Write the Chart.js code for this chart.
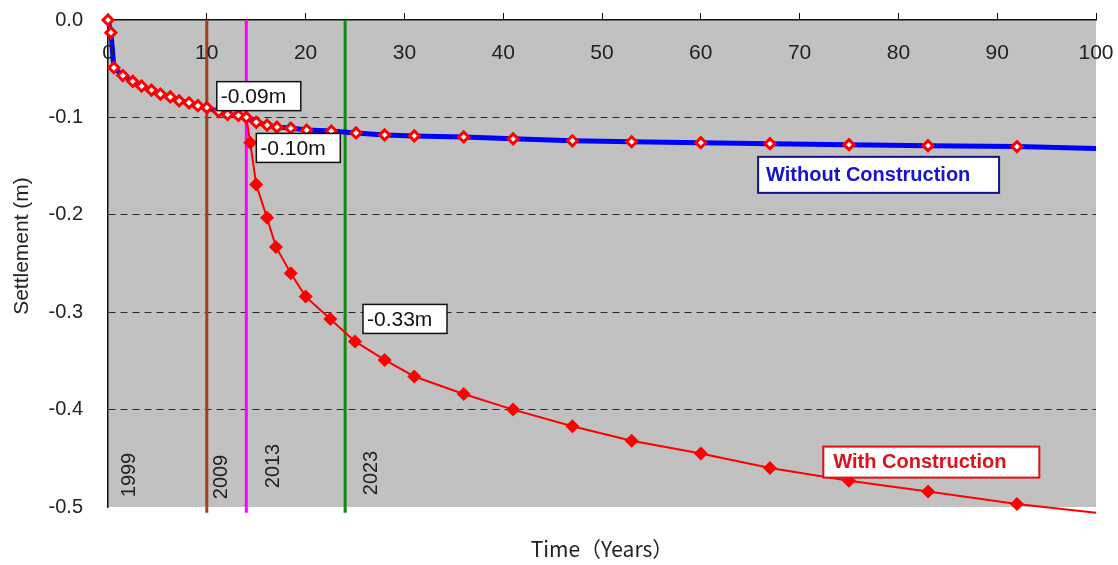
<!DOCTYPE html>
<html>
<head>
<meta charset="utf-8">
<script src="https://cdn.jsdelivr.net/npm/chart.js@4.4.0/dist/chart.umd.min.js"></script>
<style>
  html, body { margin: 0; padding: 0; background: #ffffff; }
  canvas { display: block; }
</style>
</head>
<body>
<canvas id="settlement" width="1118" height="565"></canvas>
<script>
// Axis ticks
const xTicks = [0, 10, 20, 30, 40, 50, 60, 70, 80, 90, 100];
const yTickValues = [0, -0.1, -0.2, -0.3, -0.4, -0.5];
const yTickLabels = ['0.0', '-0.1', '-0.2', '-0.3', '-0.4', '-0.5'];

// Settlement without construction (computed points, years since 1999)
const withoutYears = [0, 0.3, 0.6, 1.5, 2.5, 3.4, 4.4, 5.3, 6.3, 7.2, 8.2, 9.1, 10, 11.2, 12.1, 13.2, 14,
  15, 16.1, 17.1, 18.5, 20.1, 22.6, 25.1, 28, 31, 36, 41, 47, 53, 60, 67, 75, 83, 92];
const withoutSettlement = [0, -0.013, -0.049, -0.057, -0.063, -0.068, -0.072, -0.076, -0.079, -0.083, -0.085,
  -0.088, -0.09, -0.094, -0.097, -0.098, -0.10, -0.105, -0.108, -0.11, -0.111, -0.113, -0.114, -0.116,
  -0.118, -0.119, -0.12, -0.122, -0.124, -0.125, -0.126, -0.127, -0.128, -0.129, -0.13];
// Trend line continues to the end of the time axis
const withoutTrendEndYear = 100;
const withoutTrendEndSettlement = -0.132;

// Settlement with construction starting in 2013
const withYears = [14, 14.4, 15, 16.1, 17, 18.5, 20, 22.5, 25, 28, 31, 36, 41, 47, 53, 60, 67, 75, 83, 92, 100];
const withSettlement = [-0.10, -0.126, -0.169, -0.203, -0.233, -0.26, -0.284, -0.307, -0.33, -0.349, -0.366,
  -0.384, -0.40, -0.417, -0.432, -0.445, -0.46, -0.473, -0.484, -0.497, -0.506];

// Milestone years (years since 1999) and their calendar labels
const milestoneYears = [10, 14, 24];
const milestoneColors = ['#a0401c', '#ff00ff', '#108a10'];
const calendarYears = [0, 10, 14, 24];
const calendarLabels = ['1999', '2009', '2013', '2023'];
const axisBottomValue = -0.506;

// Value callouts
const noteYears = [10, 14, 25];
const noteValues = [-0.09, -0.10, -0.33];

const FONT = '"Liberation Sans", Arial, Helvetica, sans-serif';

const pts = (xs, ys) => xs.map((x, i) => ({ x: x, y: ys[i] }));

const milestoneSets = milestoneYears.map((yr, i) => ({
  label: 'm' + i,
  data: [{ x: yr, y: 0 }, { x: yr, y: axisBottomValue }],
  borderColor: milestoneColors[i],
  borderWidth: 3,
  pointRadius: 0,
  showLine: true,
  clip: false,
  order: 5
}));

const backdrop = {
  id: 'backdrop',
  beforeDraw(chart) {
    const { ctx, chartArea: a } = chart;
    ctx.save();
    ctx.fillStyle = '#c1c1c1';
    ctx.fillRect(a.left, a.top, a.right - a.left, a.bottom - a.top);
    ctx.restore();
  }
};

function box(ctx, x, y, w, h, stroke, lw) {
  ctx.fillStyle = '#ffffff';
  ctx.fillRect(x, y, w, h);
  ctx.strokeStyle = stroke;
  ctx.lineWidth = lw;
  ctx.strokeRect(x, y, w, h);
}

const texts = {
  id: 'texts',
  afterDatasetsDraw(chart) {
    const { ctx, chartArea: a } = chart;
    const xs = chart.scales.x, ys = chart.scales.y;
    ctx.save();

    // x tick labels sit just inside the plot, under the top axis
    ctx.fillStyle = '#222';
    ctx.font = '21px ' + FONT;
    ctx.textAlign = 'center';
    ctx.textBaseline = 'middle';
    xTicks.forEach(v => ctx.fillText(String(v), xs.getPixelForValue(v), a.top + 33));

    // calendar year labels, vertical
    const yearShift = [20, 14, 26, 25];
    const yearMid = [475, 477, 466, 473];
    ctx.font = '20px ' + FONT;
    calendarYears.forEach((yr, i) => {
      ctx.save();
      ctx.translate(xs.getPixelForValue(yr) + yearShift[i], yearMid[i]);
      ctx.rotate(-Math.PI / 2);
      ctx.fillText(calendarLabels[i], 0, 1);
      ctx.restore();
    });

    // value callouts
    const noteOffset = [[10, -26], [10, 16], [8, -37]];
    ctx.textAlign = 'left';
    ctx.font = '21px ' + FONT;
    noteYears.forEach((yr, i) => {
      const px = xs.getPixelForValue(yr) + noteOffset[i][0];
      const py = ys.getPixelForValue(noteValues[i]) + noteOffset[i][1];
      box(ctx, px, py, 84, 29, '#111', 1.5);
      ctx.fillStyle = '#111';
      ctx.fillText(noteValues[i].toFixed(2) + 'm', px + 4, py + 15.5);
    });

    // series name boxes
    ctx.font = 'bold 20px ' + FONT;
    let bx = xs.getPixelForValue(65.8), by = ys.getPixelForValue(-0.1405);
    box(ctx, bx, by, 241, 36, '#12128a', 2);
    ctx.fillStyle = '#1414d2';
    ctx.fillText('Without Construction', bx + 8, by + 18.5);

    bx = xs.getPixelForValue(72.4); by = ys.getPixelForValue(-0.438);
    box(ctx, bx, by, 216, 31, '#e01010', 2);
    ctx.fillStyle = '#e0101a';
    ctx.fillText('With Construction', bx + 10, by + 16);

    // axis titles
    ctx.fillStyle = '#222';
    ctx.font = '21px ' + FONT;
    ctx.textAlign = 'center';
    ctx.save();
    ctx.translate(22, 246);
    ctx.rotate(-Math.PI / 2);
    ctx.fillText('Settlement (m)', 0, 0);
    ctx.restore();

    ctx.font = '21px "Noto Sans CJK JP", "Noto Sans", sans-serif';
    ctx.fillText('Time（Years）', (a.left + a.right) / 2, 549);
    ctx.restore();
  }
};

new Chart(document.getElementById('settlement'), {
  type: 'scatter',
  data: {
    datasets: [
      {
        label: 'Without Construction points',
        data: pts(withoutYears, withoutSettlement),
        showLine: false,
        pointStyle: 'rectRot',
        pointRadius: 5,
        pointBorderWidth: 3,
        pointBorderColor: '#ff0000',
        pointBackgroundColor: '#ffffff',
        clip: false,
        order: 1
      },
      {
        label: 'With Construction',
        data: pts(withYears, withSettlement),
        showLine: true,
        borderColor: '#ff0000',
        borderWidth: 2,
        pointStyle: 'rectRot',
        pointRadius: ctx => (ctx.dataIndex === 0 || ctx.dataIndex === withYears.length - 1) ? 0 : 7,
        pointBackgroundColor: '#ff0000',
        pointBorderWidth: 0,
        clip: false,
        order: 2
      },
      {
        label: 'Without Construction',
        data: pts(withoutYears.concat([withoutTrendEndYear]), withoutSettlement.concat([withoutTrendEndSettlement])),
        showLine: true,
        borderColor: '#0000ff',
        borderWidth: 5,
        pointRadius: 0,
        clip: false,
        order: 3
      },
      ...milestoneSets
    ]
  },
  options: {
    responsive: false,
    devicePixelRatio: 1,
    animation: false,
    events: [],
    layout: { padding: { top: 0, left: 0, right: 22, bottom: 58 } },
    plugins: { legend: { display: false }, tooltip: { enabled: false } },
    scales: {
      x: {
        type: 'linear',
        position: 'top',
        min: 0,
        max: 100,
        afterBuildTicks: s => { s.ticks = xTicks.map(v => ({ value: v })); },
        afterFit: s => { s.height = 20; s.paddingLeft = 0; s.paddingRight = 0; },
        ticks: { display: false },
        grid: { drawOnChartArea: false, drawTicks: true, tickLength: 7, color: '#111', lineWidth: 1 },
        border: { display: true, color: '#111', width: 1.5 }
      },
      y: {
        type: 'linear',
        min: -0.5,
        max: 0,
        afterBuildTicks: s => { s.ticks = yTickValues.slice().reverse().map(v => ({ value: v })); },
        afterFit: s => { s.width = 108; s.paddingTop = 0; s.paddingBottom = 0; },
        ticks: {
          padding: 25,
          color: '#222',
          font: { family: FONT, size: 20 },
          callback: v => {
            const i = yTickValues.findIndex(t => Math.abs(t - v) < 1e-9);
            return i >= 0 ? yTickLabels[i] : '';
          }
        },
        grid: {
          drawTicks: false,
          lineWidth: 1,
          color: c => (c.tick && c.tick.value < -0.05 && c.tick.value > -0.45) ? '#2a2a2a' : 'rgba(0,0,0,0)'
        },
        border: { display: true, color: '#111', width: 1.5, dash: [7, 5] }
      }
    }
  },
  plugins: [backdrop, texts]
});
</script>
</body>
</html>
